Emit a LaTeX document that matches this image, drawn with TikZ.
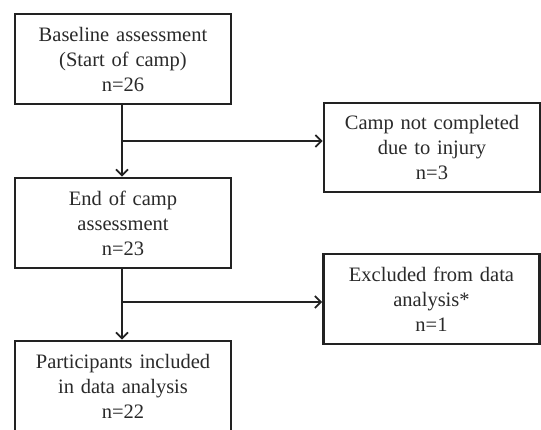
\documentclass[tikz,border=0pt]{standalone}
\usepackage{fontspec}
\setmainfont{Liberation Serif}
\usetikzlibrary{arrows.meta}
\definecolor{ink}{HTML}{222222}
\definecolor{txt}{HTML}{2A2A2A}
\begin{document}
\begin{tikzpicture}[x=1pt,y=-1pt,
  box/.style={draw=ink,line width=2.6pt,fill=white,minimum width=216pt,text width=200pt,align=center,inner sep=0pt,font=\fontsize{20.5}{25}\selectfont,text=txt},
  conn/.style={draw=ink,line width=1.8pt},
  arr/.style={conn,-{Straight Barb[length=6pt,width=12pt,line width=1.8pt]}}]
\clip (0,0) rectangle (541,429);
\useasboundingbox (0,0) rectangle (541,429);
\node[box,minimum height=90pt] (b1) at (123,59) {Baseline assessment\\(Start of camp)\\n=26};
\node[box,minimum height=90pt] (b2) at (123,223) {End of camp\\assessment\\n=23};
\node[box,minimum height=89pt] (b3) at (432,147.5) {Camp not completed\\due to injury\\n=3};
\node[box,minimum height=90pt] (b5) at (431.5,299) {Excluded from data\\analysis*\\n=1};
\node[box,minimum height=91pt] (b4) at (123,386.5) {Participants included\\in data analysis\\n=22};
\coordinate (j1) at (122,141);
\coordinate (j2) at (122,302);
\draw[arr] (j1 |- b1.south) -- (j1 |- b2.north);
\draw[arr] (j1) -- (j1 -| b3.west);
\draw[arr] (j2 |- b2.south) -- (j2 |- b4.north);
\draw[arr] (j2) -- (j2 -| b5.west);
\end{tikzpicture}
\end{document}
